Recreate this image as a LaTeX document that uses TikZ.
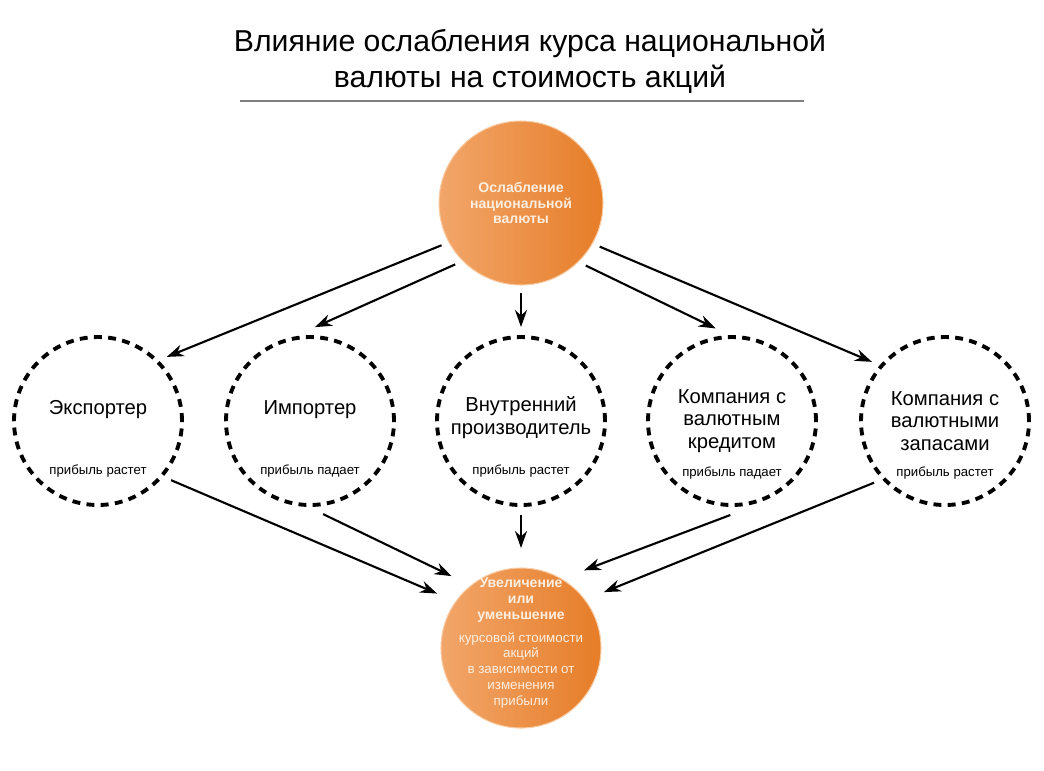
\documentclass[tikz,border=0pt]{standalone}
\usepackage{fontspec}
\setmainfont{Liberation Sans}
\usetikzlibrary{arrows.meta,calc,positioning}
\definecolor{orlight}{HTML}{F2A66A}
\definecolor{ordark}{HTML}{E67D28}
\definecolor{orrim}{HTML}{F7CBA3}
\definecolor{paletxt}{HTML}{FDEEE0}
\tikzset{
  orcirc/.style={circle,draw=orrim,line width=0.6pt,left color=orlight,right color=ordark,inner sep=0pt},
  dcirc/.style={circle,draw,line width=2.2pt,dash pattern=on 4.5pt off 3.6pt,minimum size=3.36cm,inner sep=0pt,outer sep=0.2cm},
  mainlbl/.style={font=\fontsize{11.5}{13}\selectfont,align=center},
  sublbl/.style={font=\fontsize{7.5}{9}\selectfont},
  boldtxt/.style={font=\bfseries\fontsize{8}{9}\selectfont,text=paletxt,align=center},
  arr/.style={-{Stealth[length=0.34cm,width=0.24cm]},line width=1.2pt},
}
\begin{document}
\begin{tikzpicture}
\useasboundingbox (0,0) rectangle (20.88,-15.4);
%title
\node[font=\fontsize{17.2}{20.4}\selectfont,align=center] (title) at (10.6,-1.22) {Влияние ослабления курса национальной\\валюты на стоимость акций};
\draw[gray,line width=0.6pt] (4.8,-2.02)--(16.08,-2.02);
%orange circles
\node[orcirc,boldtxt,minimum size=3.28cm,outer sep=0.16cm] (weak) at (10.42,-4.06) {Ослабление\\национальной\\валюты};
\node[orcirc,minimum size=3.2cm,outer sep=0.4cm] (rise) at (10.42,-12.96) {};
\node[boldtxt,font=\fontsize{7.6}{9}\selectfont,align=center] (rise-t) at ([yshift=0.1cm]rise.center) {\textbf{\fontsize{8}{9}\selectfont Увеличение}\\\textbf{\fontsize{8}{9}\selectfont или}\\\textbf{\fontsize{8}{9}\selectfont уменьшение}\\[4pt]курсовой стоимости\\акций\\в зависимости от\\изменения\\прибыли};
%dashed circles
\node[dcirc] (exp) at (1.96,-8.42) {};
\node[dcirc] (imp) at (6.2,-8.42) {};
\node[dcirc] (dom) at (10.42,-8.42) {};
\node[dcirc] (cred) at (14.64,-8.42) {};
\node[dcirc] (res) at (18.9,-8.42) {};
%labels
\node[mainlbl] (exp-t) at ([yshift=0.22cm]exp.center) {Экспортер};
\node[mainlbl] (imp-t) at ([yshift=0.22cm]imp.center) {Импортер};
\node[mainlbl] (dom-t) at ([yshift=0.06cm]dom.center) {Внутренний\\производитель};
\node[mainlbl] (cred-t) at ([yshift=0cm]cred.center) {Компания с\\валютным\\кредитом};
\node[mainlbl] (res-t) at ([yshift=0cm]res.center) {Компания с\\валютными\\запасами};
\node[sublbl] (exp-s) at ([yshift=-1cm]exp.center) {прибыль растет};
\node[sublbl] (imp-s) at ([yshift=-1cm]imp.center) {прибыль падает};
\node[sublbl] (dom-s) at ([yshift=-1cm]dom.center) {прибыль растет};
\node[sublbl] (cred-s) at ([yshift=-1.04cm]cred.center) {прибыль падает};
\node[sublbl] (res-s) at ([yshift=-1.04cm]res.center) {прибыль растет};
%arrows down
\draw[arr] (weak.208) -- (exp.43);
\draw[arr] (weak.223) -- (imp.87);
\draw[arr] (weak.270) -- (dom.90);
\draw[arr] (weak.316) -- (cred.100);
\draw[arr] (weak.331) -- (res.141);
\draw[arr] (exp.321) -- (rise.147);
\draw[arr] (imp.278) -- (rise.134);
\draw[arr] (dom.270) -- (rise.90);
\draw[arr] (cred.269) -- (rise.51);
\draw[arr] (res.221) -- (rise.34);
\end{tikzpicture}
\end{document}
